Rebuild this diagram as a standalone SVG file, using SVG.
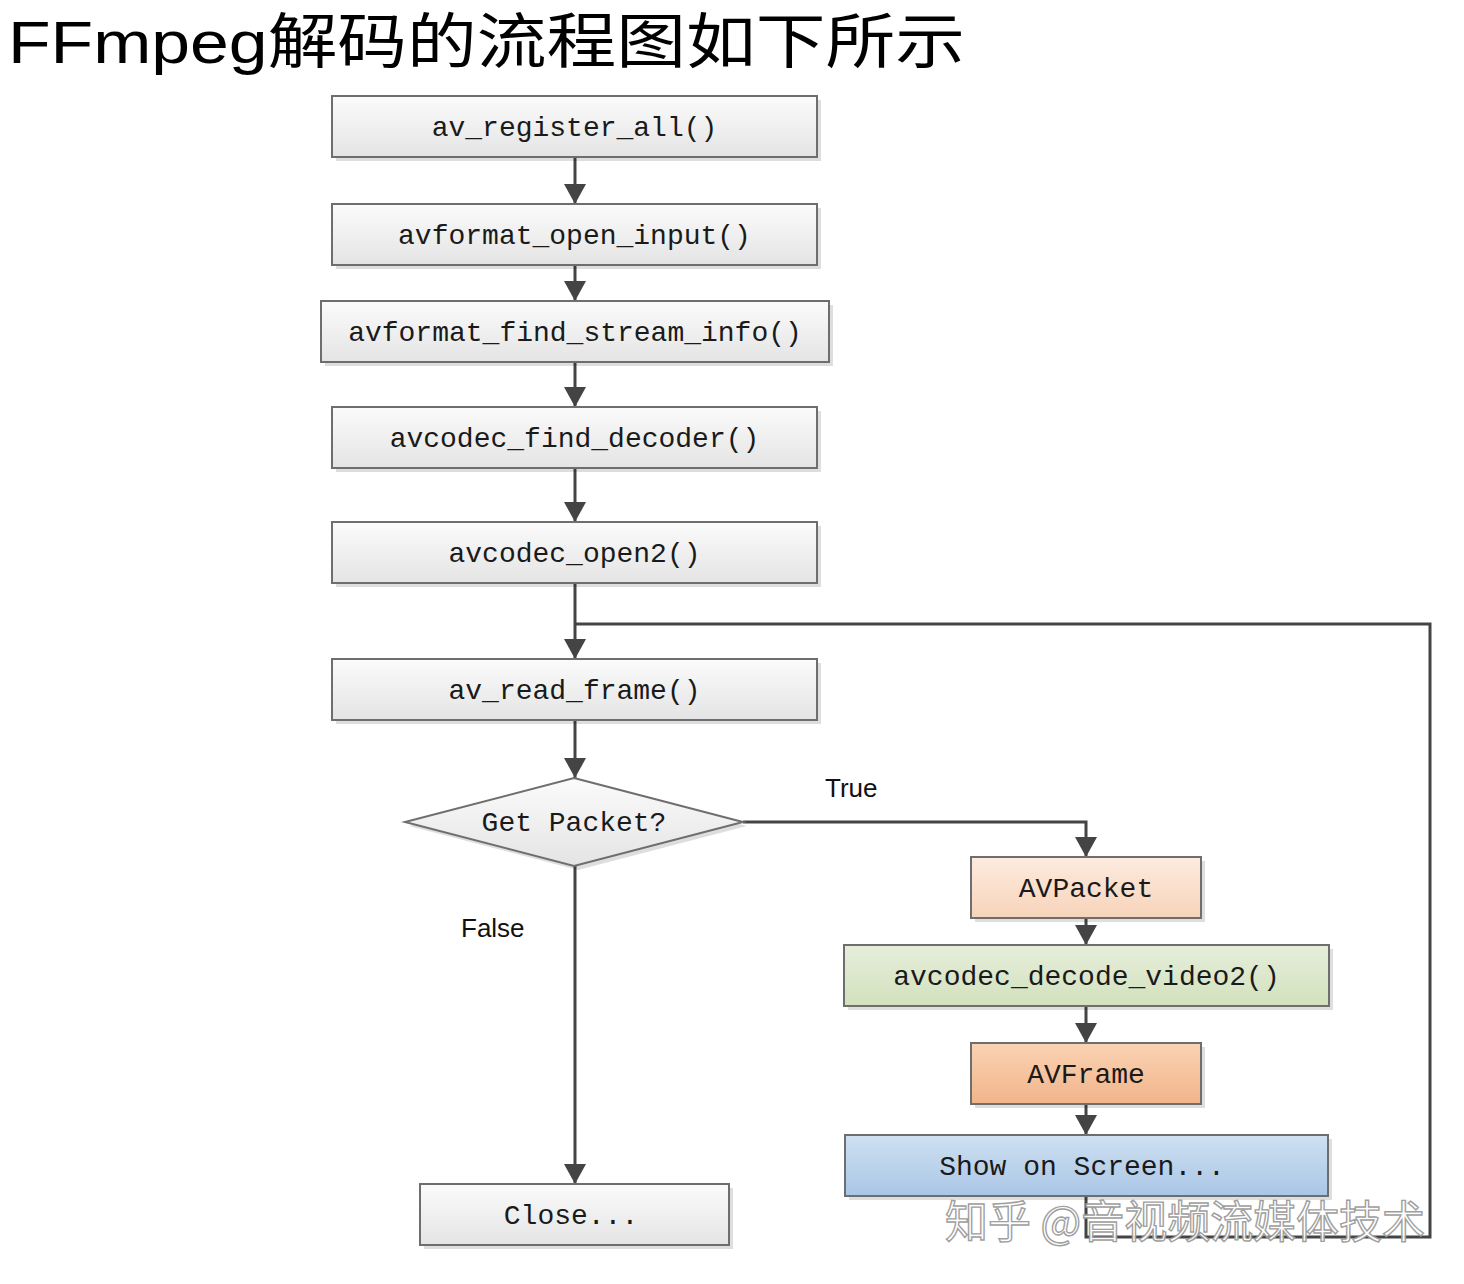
<svg xmlns="http://www.w3.org/2000/svg" width="1464" height="1284" viewBox="0 0 1464 1284">
<style>
  .box { stroke: #6e6e6e; stroke-width: 2; }
  .shadow { fill: #000; opacity: 0.13; }
  .lbl { font-family: "Liberation Mono", "DejaVu Sans Mono", monospace; font-size: 28px; fill: #1a1a1a; text-anchor: middle; }
  .cond { font-family: "Liberation Sans", "Noto Sans", sans-serif; font-size: 26px; fill: #111; }
  .conn { fill: none; stroke: #444; stroke-width: 3; }
  .title { font-family: "Liberation Sans", "Noto Sans CJK SC", sans-serif; font-size: 60px; fill: #000; }
  .wm { font-family: "Noto Sans CJK SC", sans-serif; font-size: 44px; fill: #ffffff; stroke: #9a9a9a; stroke-width: 1.4; opacity: 0.95; }
</style>
<defs>
  <linearGradient id="gGray" x1="0" y1="0" x2="0" y2="1">
    <stop offset="0" stop-color="#fbfbfb"/>
    <stop offset="1" stop-color="#e4e4e4"/>
  </linearGradient>
  <linearGradient id="gPeach" x1="0" y1="0" x2="0" y2="1">
    <stop offset="0" stop-color="#fdebdf"/>
    <stop offset="1" stop-color="#f7d3ba"/>
  </linearGradient>
  <linearGradient id="gOrange" x1="0" y1="0" x2="0" y2="1">
    <stop offset="0" stop-color="#fad3b4"/>
    <stop offset="1" stop-color="#f2b48a"/>
  </linearGradient>
  <linearGradient id="gGreen" x1="0" y1="0" x2="0" y2="1">
    <stop offset="0" stop-color="#e6eedb"/>
    <stop offset="1" stop-color="#d2e1bd"/>
  </linearGradient>
  <linearGradient id="gBlue" x1="0" y1="0" x2="0" y2="1">
    <stop offset="0" stop-color="#cfe0f1"/>
    <stop offset="1" stop-color="#a9c6e6"/>
  </linearGradient>
  <marker id="arr" viewBox="0 0 20 22" refX="20" refY="11" markerWidth="20" markerHeight="22" markerUnits="userSpaceOnUse" orient="auto">
    <path d="M0,0 L20,11 L0,22 z" fill="#444"/>
  </marker>
</defs>

<text class="title" x="8" y="63" textLength="957" lengthAdjust="spacingAndGlyphs">FFmpeg解码的流程图如下所示</text>

<g id="connectors">
  <line class="conn" x1="575" y1="158" x2="575" y2="204" marker-end="url(#arr)"/>
  <line class="conn" x1="575" y1="266" x2="575" y2="301" marker-end="url(#arr)"/>
  <line class="conn" x1="575" y1="363" x2="575" y2="407" marker-end="url(#arr)"/>
  <line class="conn" x1="575" y1="469" x2="575" y2="522" marker-end="url(#arr)"/>
  <line class="conn" x1="575" y1="584" x2="575" y2="659" marker-end="url(#arr)"/>
  <line class="conn" x1="575" y1="721" x2="575" y2="778" marker-end="url(#arr)"/>
  <polyline class="conn" points="743,822 1086,822 1086,857" marker-end="url(#arr)"/>
  <line class="conn" x1="1086" y1="919" x2="1086" y2="945" marker-end="url(#arr)"/>
  <line class="conn" x1="1086" y1="1007" x2="1086" y2="1043" marker-end="url(#arr)"/>
  <line class="conn" x1="1086" y1="1105" x2="1086" y2="1135" marker-end="url(#arr)"/>
  <line class="conn" x1="575" y1="866" x2="575" y2="1184" marker-end="url(#arr)"/>
  <polyline class="conn" points="1086,1197 1086,1237 1430,1237 1430,624 575,624"/>
  <text class="cond" x="825" y="797">True</text>
  <text class="cond" x="461" y="937">False</text>
</g>

<g id="n1">
  <rect class="shadow" x="336" y="100" width="485" height="61"/>
  <rect class="box" x="332" y="96" width="485" height="61" fill="url(#gGray)"/>
  <text class="lbl" x="574.5" y="136">av_register_all()</text>
</g>
<g id="n2">
  <rect class="shadow" x="336" y="208" width="485" height="61"/>
  <rect class="box" x="332" y="204" width="485" height="61" fill="url(#gGray)"/>
  <text class="lbl" x="574.5" y="244">avformat_open_input()</text>
</g>
<g id="n3">
  <rect class="shadow" x="325" y="305" width="508" height="61"/>
  <rect class="box" x="321" y="301" width="508" height="61" fill="url(#gGray)"/>
  <text class="lbl" x="575" y="341">avformat_find_stream_info()</text>
</g>
<g id="n4">
  <rect class="shadow" x="336" y="411" width="485" height="61"/>
  <rect class="box" x="332" y="407" width="485" height="61" fill="url(#gGray)"/>
  <text class="lbl" x="574.5" y="447">avcodec_find_decoder()</text>
</g>
<g id="n5">
  <rect class="shadow" x="336" y="526" width="485" height="61"/>
  <rect class="box" x="332" y="522" width="485" height="61" fill="url(#gGray)"/>
  <text class="lbl" x="574.5" y="562">avcodec_open2()</text>
</g>
<g id="n6">
  <rect class="shadow" x="336" y="663" width="485" height="61"/>
  <rect class="box" x="332" y="659" width="485" height="61" fill="url(#gGray)"/>
  <text class="lbl" x="574.5" y="699">av_read_frame()</text>
</g>
<g id="n7">
  <polygon class="shadow" points="578,782 747,826 578,870 409,826"/>
  <polygon class="box" points="574,778 743,822 574,866 405,822" fill="url(#gGray)"/>
  <text class="lbl" x="574" y="831">Get Packet?</text>
</g>
<g id="n8">
  <rect class="shadow" x="975" y="861" width="230" height="61"/>
  <rect class="box" x="971" y="857" width="230" height="61" fill="url(#gPeach)"/>
  <text class="lbl" x="1086" y="897">AVPacket</text>
</g>
<g id="n9">
  <rect class="shadow" x="848" y="949" width="485" height="61"/>
  <rect class="box" x="844" y="945" width="485" height="61" fill="url(#gGreen)"/>
  <text class="lbl" x="1086.5" y="985">avcodec_decode_video2()</text>
</g>
<g id="n10">
  <rect class="shadow" x="975" y="1047" width="230" height="61"/>
  <rect class="box" x="971" y="1043" width="230" height="61" fill="url(#gOrange)"/>
  <text class="lbl" x="1086" y="1083">AVFrame</text>
</g>
<g id="n11">
  <rect class="shadow" x="849" y="1139" width="483" height="61"/>
  <rect class="box" x="845" y="1135" width="483" height="61" fill="url(#gBlue)"/>
  <text class="lbl" x="1082" y="1175">Show on Screen...</text>
</g>
<g id="n12">
  <rect class="shadow" x="424" y="1188" width="309" height="61"/>
  <rect class="box" x="420" y="1184" width="309" height="61" fill="url(#gGray)"/>
  <text class="lbl" x="571" y="1224">Close...</text>
</g>

<text class="wm" x="945" y="1238" textLength="480" lengthAdjust="spacingAndGlyphs">知乎 @音视频流媒体技术</text>
</svg>
